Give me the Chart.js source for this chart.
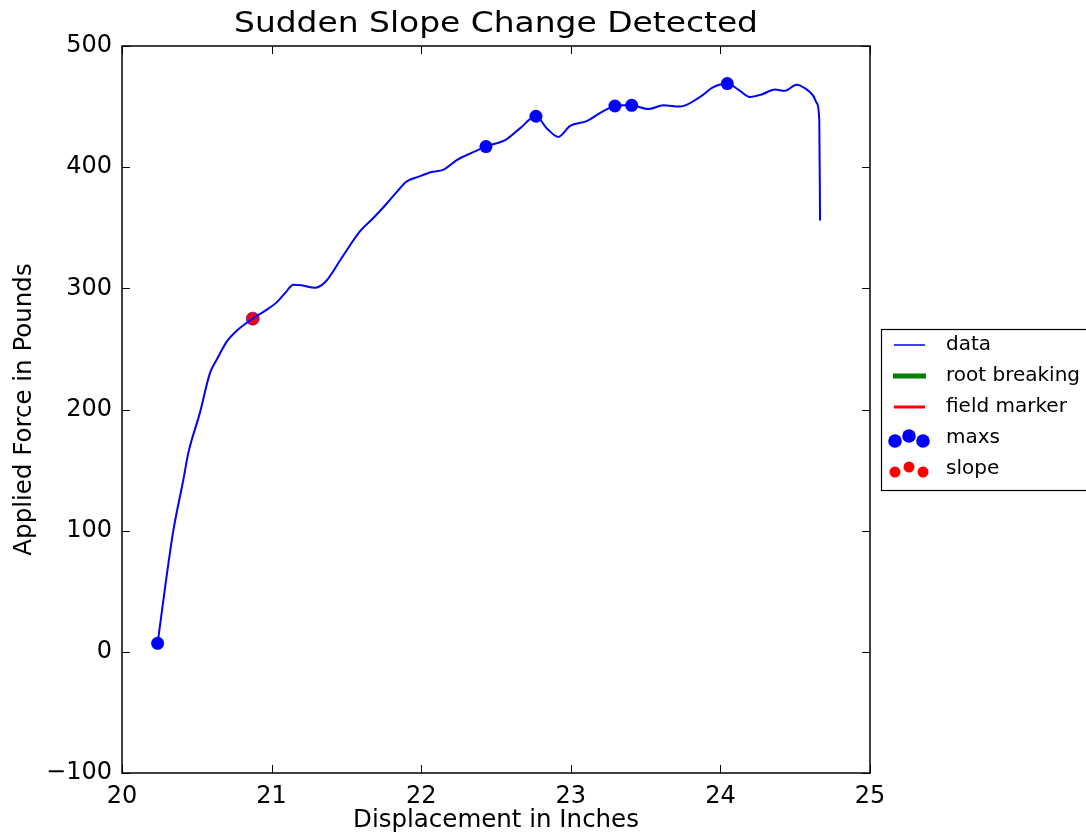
<!DOCTYPE html>
<html>
<head>
<meta charset="utf-8">
<script src="https://cdn.jsdelivr.net/npm/chart.js@4.4.1/dist/chart.umd.min.js"></script>
<style>
  html, body { margin: 0; padding: 0; background: #ffffff; }
  #wrap { width: 1086px; height: 838px; position: relative; }
</style>
</head>
<body>
<div id="wrap"><canvas id="c" width="1086" height="838"></canvas></div>
<script>
// ---- Data ----
const dataX = [20.238, 20.29, 20.343, 20.41, 20.443, 20.52, 20.588, 20.633, 20.70, 20.767, 20.874, 20.95, 21.03, 21.09, 21.145, 21.20, 21.29, 21.357, 21.468, 21.59, 21.68, 21.77, 21.84, 21.90, 21.98, 22.07, 22.15, 22.24, 22.34, 22.433, 22.57, 22.66, 22.767, 22.84, 22.917, 22.995, 23.106, 23.2, 23.295, 23.35, 23.407, 23.518, 23.618, 23.73, 23.864, 23.953, 24.046, 24.12, 24.198, 24.276, 24.365, 24.43, 24.51, 24.566, 24.62, 24.644, 24.661, 24.666];
const dataY = [7, 55, 100, 142, 164, 197, 230, 241, 256, 265, 275, 281, 288, 296, 303, 302.5, 300.5, 305, 325, 347, 358, 370, 380, 388, 392, 396, 398, 406, 412, 417, 423, 432, 442, 432, 425, 434, 438, 445, 450.5, 451, 451, 448, 451, 450, 458, 466, 469, 464, 458, 460, 464, 463, 468, 465, 459, 453, 439, 356];
const maxsX = [20.238, 22.433, 22.767, 23.295, 23.407, 24.046];
const maxsY = [7, 417, 442, 450.5, 451, 469];
const slopeX = [20.874];
const slopeY = [275];
const xTicks = [20, 21, 22, 23, 24, 25];
const yTicks = [-100, 0, 100, 200, 300, 400, 500];
const titleText = 'Sudden Slope Change Detected';
const xLabel = 'Displacement in Inches';
const yLabel = 'Applied Force in Pounds';
const legendItems = ['data', 'root breaking', 'field marker', 'maxs', 'slope'];

const FONT = "'DejaVu Sans', sans-serif";
const toPts = (xs, ys) => xs.map((x, i) => ({x: x, y: ys[i]}));

const framePlugin = {
  id: 'frame',
  afterDraw(chart) {
    const ctx = chart.ctx;
    const a = chart.chartArea;
    const xs = chart.scales.x, ys = chart.scales.y;
    ctx.save();
    ctx.strokeStyle = '#000';
    ctx.lineWidth = 1.5;
    ctx.strokeRect(a.left, a.top, a.right - a.left, a.bottom - a.top);
    ctx.lineWidth = 1;
    const L = 8;
    ctx.beginPath();
    xTicks.forEach(v => {
      const px = Math.round(xs.getPixelForValue(v)) + 0.5;
      ctx.moveTo(px, a.bottom); ctx.lineTo(px, a.bottom - L);
      ctx.moveTo(px, a.top); ctx.lineTo(px, a.top + L);
    });
    yTicks.forEach(v => {
      const py = Math.round(ys.getPixelForValue(v)) + 0.5;
      ctx.moveTo(a.left, py); ctx.lineTo(a.left + L, py);
      ctx.moveTo(a.right, py); ctx.lineTo(a.right - L, py);
    });
    ctx.stroke();

    // title
    ctx.fillStyle = '#000';
    ctx.font = '28px ' + FONT;
    ctx.textAlign = 'center';
    ctx.textBaseline = 'alphabetic';
    const tw = ctx.measureText(titleText).width;
    const sx = 524 / tw;
    ctx.save();
    ctx.translate((a.left + a.right) / 2, 32);
    ctx.scale(sx, 1);
    ctx.fillText(titleText, 0, 0);
    ctx.restore();

    // legend
    const lx = 881, ly = 329, lw = 230, lh = 161;
    ctx.fillStyle = '#fff';
    ctx.fillRect(lx, ly, lw, lh);
    ctx.strokeStyle = '#000';
    ctx.lineWidth = 1.2;
    ctx.strokeRect(lx + 0.5, ly + 0.5, lw, lh);
    const rows = [345, 376, 407, 438, 469];
    ctx.font = '20px ' + FONT;
    ctx.textAlign = 'left';
    ctx.textBaseline = 'middle';
    ctx.strokeStyle = '#0000ff'; ctx.lineWidth = 1.5;
    ctx.beginPath(); ctx.moveTo(894, rows[0]); ctx.lineTo(925, rows[0]); ctx.stroke();
    ctx.strokeStyle = '#008000'; ctx.lineWidth = 5;
    ctx.beginPath(); ctx.moveTo(893, rows[1]); ctx.lineTo(926, rows[1]); ctx.stroke();
    ctx.strokeStyle = '#ff0000'; ctx.lineWidth = 3;
    ctx.beginPath(); ctx.moveTo(894, rows[2]); ctx.lineTo(925, rows[2]); ctx.stroke();
    const dots = (y, color, r) => {
      ctx.fillStyle = color;
      [[895, 3], [909, -2], [923, 3]].forEach(([dx, dy]) => {
        ctx.beginPath(); ctx.arc(dx, y + dy, r, 0, Math.PI * 2); ctx.fill();
      });
    };
    dots(rows[3], '#0000ff', 6.8);
    dots(rows[4], '#ff0000', 5.5);
    ctx.fillStyle = '#000';
    legendItems.forEach((t, i) => ctx.fillText(t, 946, rows[i]));
    ctx.restore();
  }
};

const fmt = v => (v < 0 ? '\u2212' + Math.abs(v) : String(v));

new Chart(document.getElementById('c'), {
  type: 'scatter',
  data: {
    datasets: [
      {
        label: 'data',
        data: toPts(dataX, dataY),
        showLine: true,
        borderColor: '#0000ff',
        borderWidth: 2,
        pointRadius: 0,
        cubicInterpolationMode: 'monotone',
        fill: false
      },
      {
        label: 'maxs',
        data: toPts(maxsX, maxsY),
        showLine: false,
        pointRadius: 6.5,
        pointBackgroundColor: '#0000ff',
        pointBorderColor: '#0000ff',
        pointBorderWidth: 0
      },
      {
        label: 'slope',
        data: toPts(slopeX, slopeY),
        showLine: false,
        pointRadius: 6.5,
        pointBackgroundColor: '#ff0000',
        pointBorderColor: 'rgba(60,0,200,0.7)',
        pointBorderWidth: 1
      }
    ]
  },
  options: {
    responsive: false,
    animation: false,
    layout: { padding: { top: 46, right: 216, left: 0, bottom: 0 } },
    plugins: { legend: { display: false }, tooltip: { enabled: false }, title: { display: false } },
    scales: {
      x: {
        type: 'linear',
        min: 20, max: 25,
        afterBuildTicks: s => { s.ticks = xTicks.map(v => ({value: v})); },
        afterFit: s => { s.height = 65; },
        grid: { display: false, drawTicks: false },
        border: { display: false },
        ticks: { color: '#000', font: { family: FONT, size: 24 }, padding: 9, maxRotation: 0, callback: fmt },
        title: { display: true, text: xLabel, color: '#000', font: { family: FONT, size: 24.5 }, padding: { top: 0, bottom: 3 } }
      },
      y: {
        type: 'linear',
        min: -100, max: 500,
        afterBuildTicks: s => { s.ticks = yTicks.map(v => ({value: v})); },
        afterFit: s => { s.width = 122; },
        grid: { display: false, drawTicks: false },
        border: { display: false },
        ticks: { color: '#000', font: { family: FONT, size: 24 }, padding: 10, callback: fmt },
        title: { display: true, text: yLabel, color: '#000', font: { family: FONT, size: 24.5 }, padding: { top: 10, bottom: 0 } }
      }
    }
  },
  plugins: [framePlugin]
});
</script>
</body>
</html>
